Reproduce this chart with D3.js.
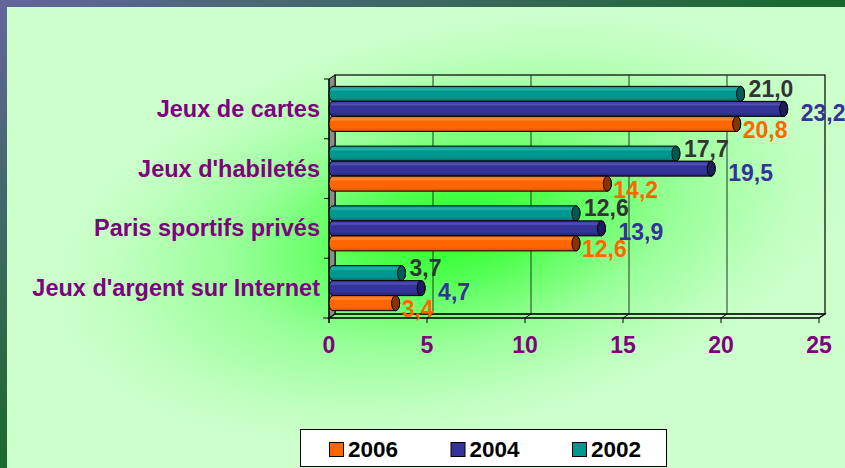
<!DOCTYPE html>
<html>
<head>
<meta charset="utf-8">
<script src="https://cdn.jsdelivr.net/npm/d3@7"></script>
<style>
  body { margin: 0; background: #ccffcc; }
  svg { display: block; font-family: Arial, "Liberation Sans", sans-serif; }
</style>
</head>
<body>
<svg id="chart" width="845" height="468"></svg>
<script>
const categories = [
  "Jeux de cartes",
  "Jeux d'habiletés",
  "Paris sportifs privés",
  "Jeux d'argent sur Internet"
];
// series in drawing order inside each category (top to bottom)
const seriesNames = ["2002", "2004", "2006"];
const values2002 = [21.0, 17.7, 12.6, 3.7];
const values2004 = [23.2, 19.5, 13.9, 4.7];
const values2006 = [20.8, 14.2, 12.6, 3.4];
const xTicks = [0, 5, 10, 15, 20, 25];
const legendOrder = ["2006", "2004", "2002"];

const seriesStyle = {
  "2002": { fill: "#009790", light: "#29b0aa", dark: "#006b66", cap: "#005b57", text: "#333333", dx: 8, dy: -5 },
  "2004": { fill: "#333399", light: "#5252b3", dark: "#23236e", cap: "#1d1d5c", text: "#333399", dx: 17, dy: 4 },
  "2006": { fill: "#ff6600", light: "#ff8a3a", dark: "#d45200", cap: "#8a3300", text: "#ff6600", dx: 6, dy: 6 }
};

const seriesValues = { "2002": values2002, "2004": values2004, "2006": values2006 };

var svg = d3.select("#chart");
var W = 845, H = 468;
var depthX = 6, depthY = -4;
var plot = { left: 329, right: 819, top: 79, bottom: 318 };

var defs = svg.append("defs");

// background glow
var bg = defs.append("radialGradient")
  .attr("id", "glow")
  .attr("gradientUnits", "userSpaceOnUse")
  .attr("cx", 455).attr("cy", 228).attr("r", 330)
  .attr("gradientTransform", "translate(455,228) rotate(-12) scale(1.25,0.62) translate(-455,-228)");
bg.append("stop").attr("offset", "0%").attr("stop-color", "#22ff22");
bg.append("stop").attr("offset", "25%").attr("stop-color", "#55ff55");
bg.append("stop").attr("offset", "55%").attr("stop-color", "#99ff99");
bg.append("stop").attr("offset", "85%").attr("stop-color", "#c2ffc2");
bg.append("stop").attr("offset", "100%").attr("stop-color", "#ccffcc");

var topBar = defs.append("linearGradient").attr("id", "topBar")
  .attr("x1", 0).attr("x2", 1).attr("y1", 0).attr("y2", 0);
topBar.append("stop").attr("offset", "0%").attr("stop-color", "#62669a");
topBar.append("stop").attr("offset", "100%").attr("stop-color", "#17692a");

var leftBar = defs.append("linearGradient").attr("id", "leftBar")
  .attr("x1", 0).attr("x2", 0).attr("y1", 0).attr("y2", 1);
leftBar.append("stop").attr("offset", "0%").attr("stop-color", "#62669a");
leftBar.append("stop").attr("offset", "100%").attr("stop-color", "#1a6a2c");

seriesNames.forEach(function(s) {
  var st = seriesStyle[s];
  var g = defs.append("linearGradient").attr("id", "cyl" + s)
    .attr("x1", 0).attr("x2", 0).attr("y1", 0).attr("y2", 1);
  g.append("stop").attr("offset", "0%").attr("stop-color", st.fill);
  g.append("stop").attr("offset", "22%").attr("stop-color", st.light);
  g.append("stop").attr("offset", "32%").attr("stop-color", st.fill);
  g.append("stop").attr("offset", "75%").attr("stop-color", st.fill);
  g.append("stop").attr("offset", "100%").attr("stop-color", st.dark);
});

svg.append("rect").attr("width", W).attr("height", H).attr("fill", "#ccffcc");
svg.append("rect").attr("x", 7).attr("y", 7).attr("width", W - 7).attr("height", H - 7).attr("fill", "url(#glow)");
svg.append("rect").attr("x", 0).attr("y", 0).attr("width", W).attr("height", 7).attr("fill", "url(#topBar)");
svg.append("rect").attr("x", 0).attr("y", 0).attr("width", 7).attr("height", H).attr("fill", "url(#leftBar)");

// scales
var xScale = d3.scaleLinear().domain([0, 25]).range([plot.left, plot.right]);
var yCat = d3.scaleBand().domain(categories).range([plot.top, plot.bottom]).paddingInner(0).paddingOuter(0);
var ySer = d3.scaleBand().domain(seriesNames).range([0, yCat.bandwidth()]).paddingInner(0).paddingOuter(0.49);

// back wall
svg.append("rect")
  .attr("x", plot.left + depthX).attr("y", plot.top + depthY)
  .attr("width", plot.right - plot.left).attr("height", plot.bottom - plot.top)
  .attr("fill", "none").attr("stroke", "#000").attr("stroke-width", 1.2);

svg.append("g").selectAll("line")
  .data(xTicks.slice(1, -1))
  .enter().append("line")
  .attr("x1", function(d) { return xScale(d) + depthX; })
  .attr("x2", function(d) { return xScale(d) + depthX; })
  .attr("y1", plot.top + depthY)
  .attr("y2", plot.bottom + depthY)
  .attr("stroke", "#1e3a1e").attr("stroke-width", 1);

// left wall
svg.append("polygon")
  .attr("points", [
    [plot.left, plot.top], [plot.left + depthX, plot.top + depthY],
    [plot.left + depthX, plot.bottom + depthY], [plot.left, plot.bottom]
  ].join(" "))
  .attr("fill", "#8c8c8c").attr("stroke", "#000").attr("stroke-width", 1);

// floor
svg.append("polygon")
  .attr("points", [
    [plot.left, plot.bottom], [plot.left + depthX, plot.bottom + depthY],
    [plot.right + depthX, plot.bottom + depthY], [plot.right, plot.bottom]
  ].join(" "))
  .attr("fill", "none").attr("stroke", "#000").attr("stroke-width", 1.2);

// front axis lines
svg.append("line")
  .attr("x1", plot.left - 6).attr("x2", plot.right)
  .attr("y1", plot.bottom).attr("y2", plot.bottom)
  .attr("stroke", "#000").attr("stroke-width", 1.2);
svg.append("line")
  .attr("x1", plot.left).attr("x2", plot.left)
  .attr("y1", plot.top).attr("y2", plot.bottom + 5)
  .attr("stroke", "#000").attr("stroke-width", 1.2);

// category ticks
svg.append("g").selectAll("line")
  .data(categories)
  .enter().append("line")
  .attr("x1", plot.left - 5).attr("x2", plot.left)
  .attr("y1", function(d) { return yCat(d); })
  .attr("y2", function(d) { return yCat(d); })
  .attr("stroke", "#000");

// value ticks
var xt = svg.append("g");
xt.selectAll(".tick-d")
  .data(xTicks)
  .enter().append("line")
  .attr("x1", function(d) { return xScale(d); })
  .attr("x2", function(d) { return xScale(d) + depthX; })
  .attr("y1", plot.bottom).attr("y2", plot.bottom + depthY)
  .attr("stroke", "#000");
xt.selectAll(".tick-v")
  .data(xTicks)
  .enter().append("line")
  .attr("x1", function(d) { return xScale(d); })
  .attr("x2", function(d) { return xScale(d); })
  .attr("y1", plot.bottom).attr("y2", plot.bottom + 5)
  .attr("stroke", "#000");
xt.selectAll("text")
  .data(xTicks)
  .enter().append("text")
  .attr("x", function(d) { return xScale(d); })
  .attr("y", 353)
  .attr("text-anchor", "middle")
  .attr("fill", "#800080")
  .style("font-size", "23px")
  .style("font-weight", "bold")
  .text(function(d) { return d; });

// category labels
svg.append("g").selectAll("text")
  .data(categories)
  .enter().append("text")
  .attr("x", 320)
  .attr("y", function(d) { return yCat(d) + yCat.bandwidth() / 2 + 8; })
  .attr("text-anchor", "end")
  .attr("fill", "#800080")
  .style("font-size", "23.5px")
  .style("font-weight", "bold")
  .text(function(d) { return d; });

// bars as lying cylinders
var rows = [];
categories.forEach(function(c, i) {
  seriesNames.forEach(function(s) {
    rows.push({ cat: c, series: s, value: seriesValues[s][i] });
  });
});

var bars = svg.append("g").selectAll("g")
  .data(rows)
  .enter().append("g");

function cylPath(d) {
  var y0 = yCat(d.cat) + ySer(d.series);
  var h = ySer.bandwidth();
  var x0 = xScale(0), x1 = xScale(d.value);
  var rx = 4, ry = h / 2;
  return "M" + (x0 + rx) + "," + y0 +
    "L" + x1 + "," + y0 +
    "A" + rx + "," + ry + " 0 0 1 " + x1 + "," + (y0 + h) +
    "L" + (x0 + rx) + "," + (y0 + h) +
    "A" + rx + "," + ry + " 0 0 1 " + (x0 + rx) + "," + y0 + "Z";
}

bars.append("path")
  .attr("d", cylPath)
  .attr("fill", function(d) { return "url(#cyl" + d.series + ")"; })
  .attr("stroke", "#000").attr("stroke-width", 1);

bars.append("ellipse")
  .attr("cx", function(d) { return xScale(d.value); })
  .attr("cy", function(d) { return yCat(d.cat) + ySer(d.series) + ySer.bandwidth() / 2; })
  .attr("rx", 4)
  .attr("ry", ySer.bandwidth() / 2)
  .attr("fill", function(d) { return seriesStyle[d.series].cap; })
  .attr("stroke", "#000").attr("stroke-width", 1);

bars.append("text")
  .attr("x", function(d) { return xScale(d.value) + seriesStyle[d.series].dx; })
  .attr("y", function(d) {
    return yCat(d.cat) + ySer(d.series) + ySer.bandwidth() / 2 + seriesStyle[d.series].dy + 8;
  })
  .attr("fill", function(d) { return seriesStyle[d.series].text; })
  .style("font-size", "23px")
  .style("font-weight", "bold")
  .text(function(d) { return d.value.toFixed(1).replace(".", ","); });

// legend
var legend = svg.append("g");
legend.append("rect")
  .attr("x", 300.5).attr("y", 429.5).attr("width", 366).attr("height", 37)
  .attr("fill", "#fff").attr("stroke", "#000").attr("stroke-width", 1);

var legendX = d3.scalePoint().domain(legendOrder).range([329, 572]);
var items = legend.selectAll("g.item")
  .data(legendOrder)
  .enter().append("g").attr("class", "item");
items.append("rect")
  .attr("x", function(d) { return legendX(d) + 0.5; })
  .attr("y", 442.5).attr("width", 14).attr("height", 14)
  .attr("fill", function(d) { return seriesStyle[d].fill; })
  .attr("stroke", "#000").attr("stroke-width", 1);
items.append("text")
  .attr("x", function(d) { return legendX(d) + 19; })
  .attr("y", 457)
  .attr("fill", "#000")
  .style("font-size", "22.5px")
  .style("font-weight", "bold")
  .text(function(d) { return d; });
</script>
</body>
</html>
